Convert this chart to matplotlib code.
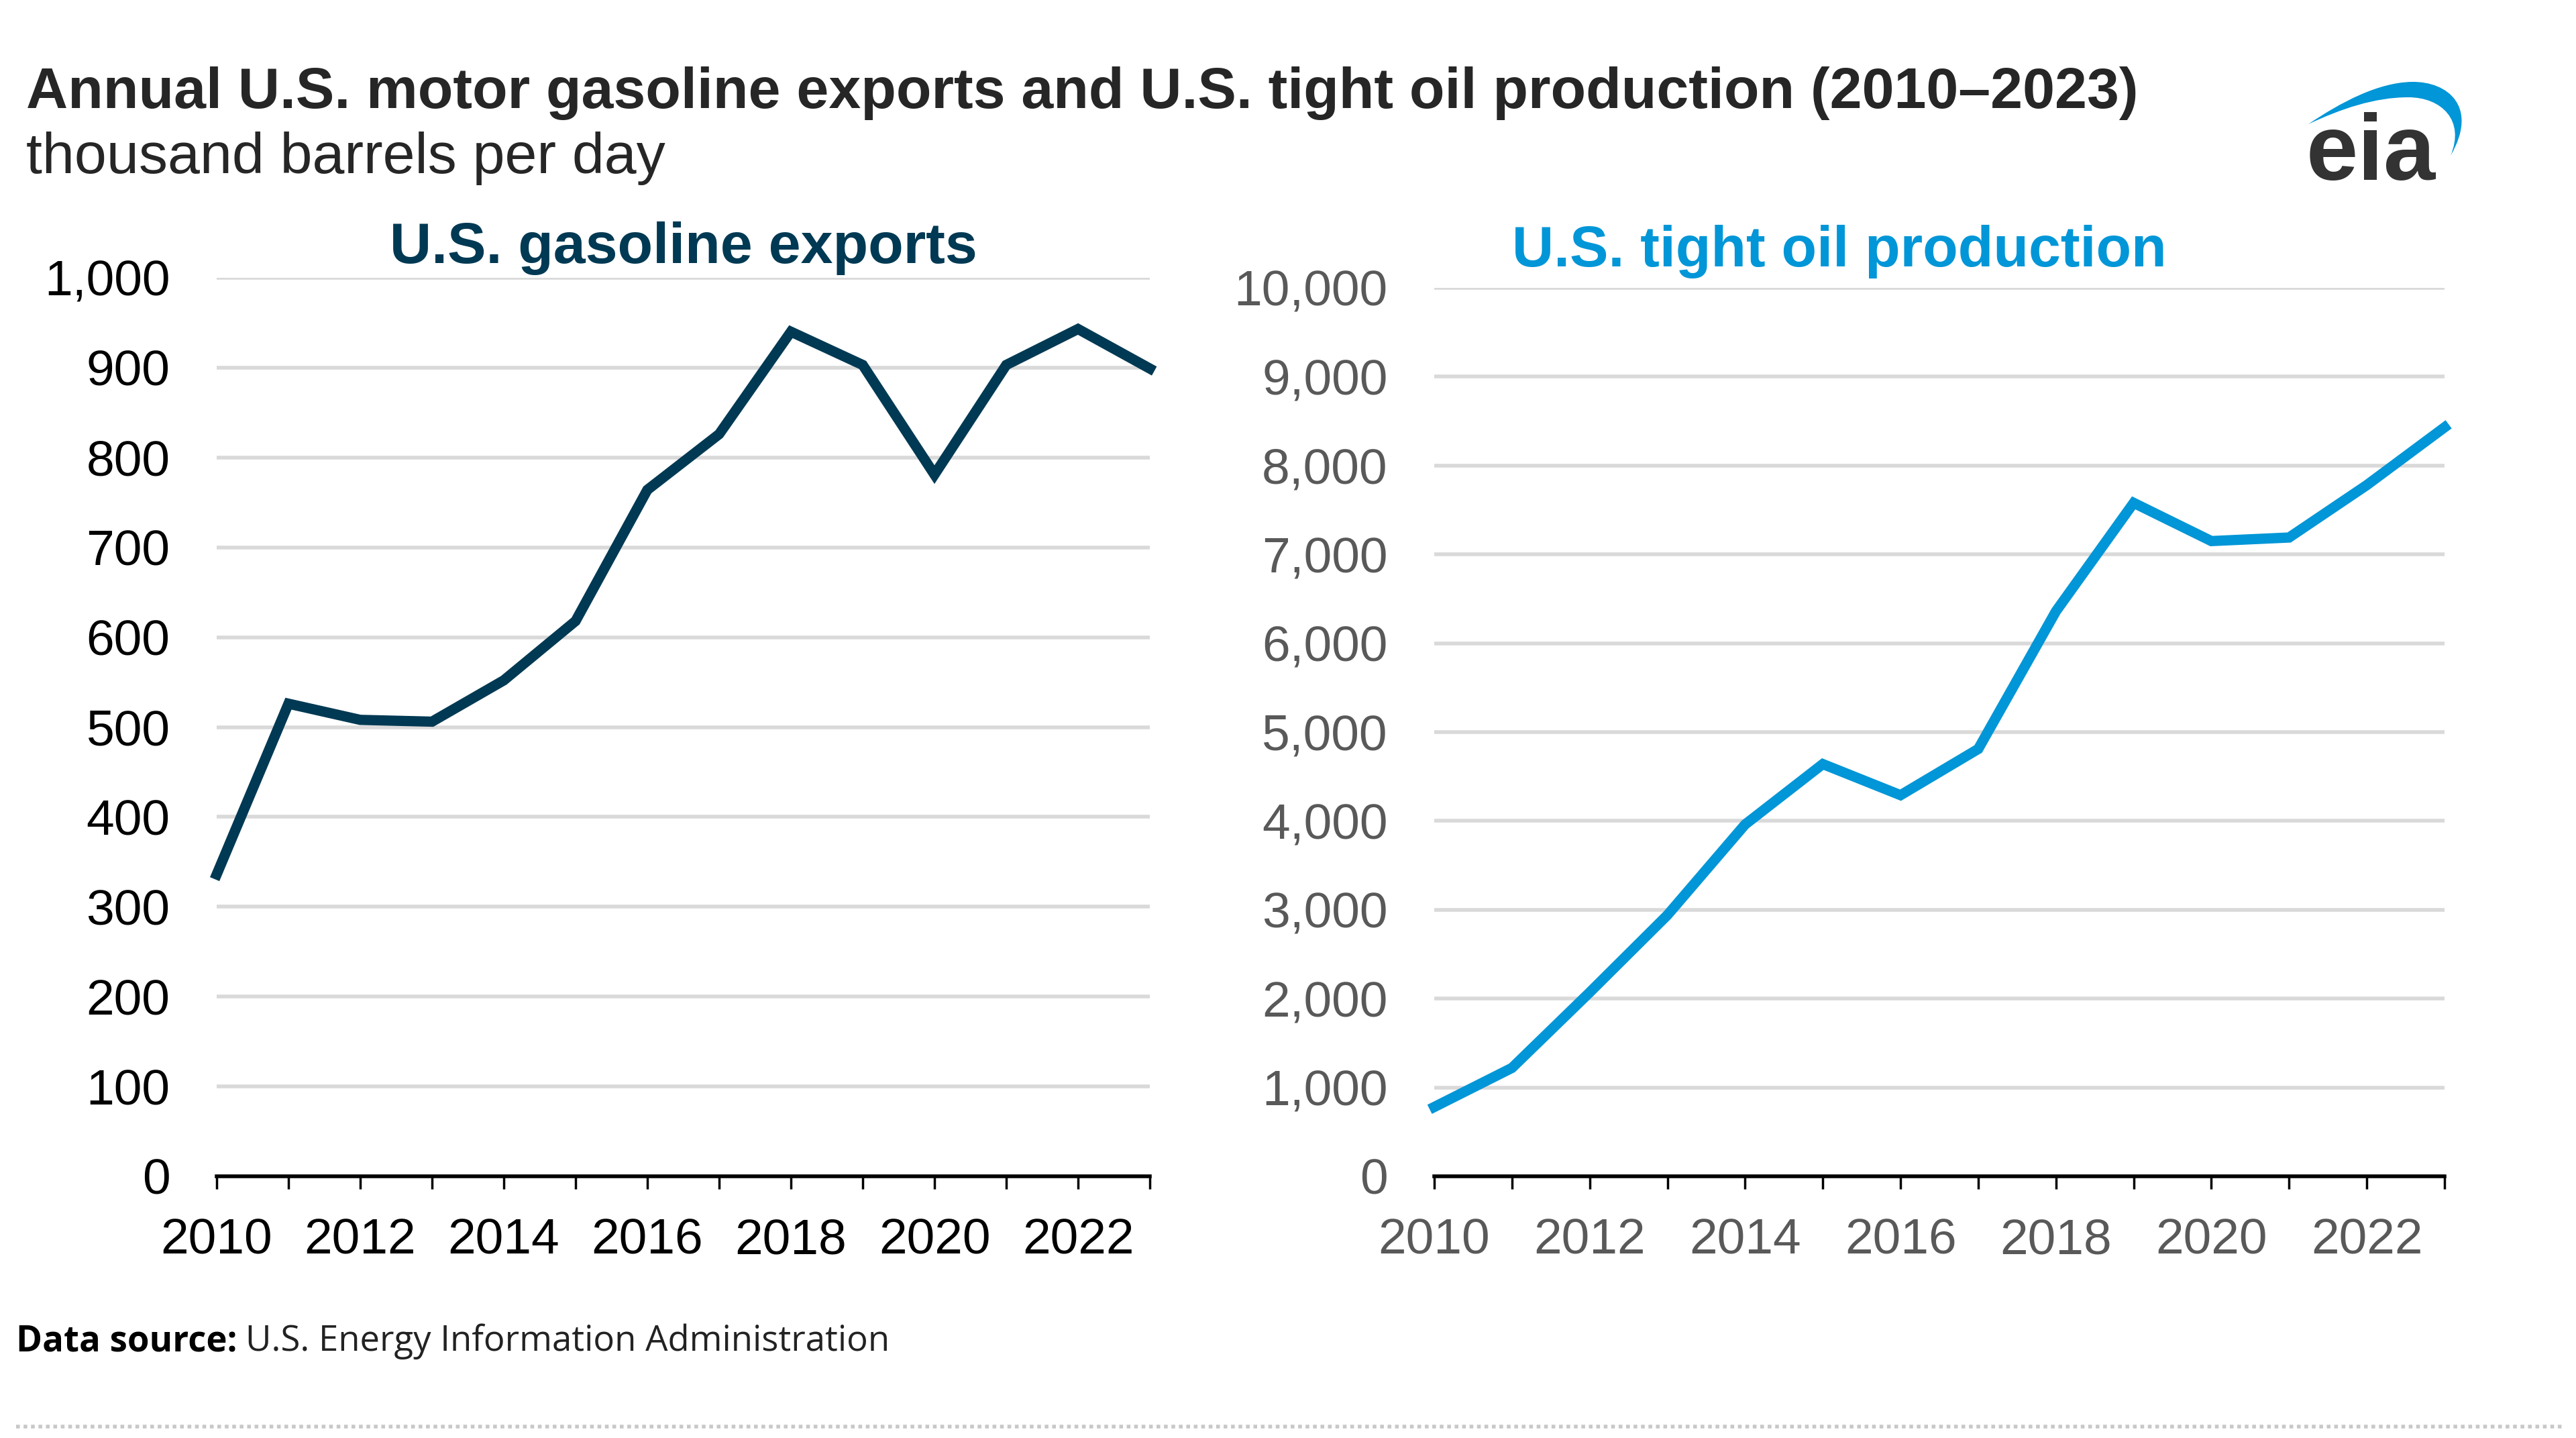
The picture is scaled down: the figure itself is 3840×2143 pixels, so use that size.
import numpy as np
import matplotlib
matplotlib.use('Agg')
import matplotlib.pyplot as plt
from matplotlib.path import Path
from matplotlib.patches import PathPatch

plt.rcParams['font.family'] = ['Liberation Sans', 'DejaVu Sans']

years = list(range(2010, 2024))
gasoline_exports = [336, 526, 508, 506, 552, 618, 764, 826, 940, 903, 781, 903, 943, 899]
tight_oil = [780, 1220, 2070, 2940, 3960, 4640, 4290, 4810, 6360, 7580, 7150, 7190, 7780, 8430]

title = 'Annual U.S. motor gasoline exports and U.S. tight oil production (2010\u20132023)'
subtitle = 'thousand barrels per day'
left_title = 'U.S. gasoline exports'
right_title = 'U.S. tight oil production'

navy = '#003953'
blue = '#0096d7'
grid_col = '#d9d9d9'

W, H = 3840, 2143
fig = plt.figure(figsize=(W / 100, H / 100), dpi=100)


def style_axis(ax, ymax, ystep, label_col):
    ax.set_xlim(2010, 2023)
    ax.set_ylim(0, ymax)
    ax.set_yticks(np.arange(0, ymax + 1, ystep))
    ax.yaxis.set_major_formatter(matplotlib.ticker.FuncFormatter(lambda v, p: f'{int(v):,}'))
    ax.set_xticks(years)
    ax.set_xticklabels([str(y) if y % 2 == 0 else '' for y in years])
    ax.grid(axis='y', color=grid_col, lw=4, zorder=0)
    ax.set_axisbelow(True)
    for s in ['top', 'right', 'left']:
        ax.spines[s].set_visible(False)
    ax.spines['bottom'].set_linewidth(4)
    ax.spines['bottom'].set_color('black')
    ax.tick_params(axis='y', length=0, pad=50, labelsize=54, labelcolor=label_col)
    ax.tick_params(axis='x', length=14, width=2.5, direction='out', pad=30,
                   labelsize=54, labelcolor=label_col, color='black')


# left panel
ax1 = fig.add_axes([323 / W, 1 - 1753 / H, (1714 - 323) / W, (1753 - 414) / H])
ax1.plot(years, gasoline_exports, color=navy, lw=11, solid_joinstyle='miter', clip_on=False, zorder=3)
style_axis(ax1, 1000, 100, 'black')

# right panel
ax2 = fig.add_axes([2138 / W, 1 - 1753 / H, (3644 - 2138) / W, (1753 - 429) / H])
ax2.plot(years, tight_oil, color=blue, lw=11, solid_joinstyle='miter', clip_on=False, zorder=3)
style_axis(ax2, 10000, 1000, '#595959')

# titles
fig.text(16 * 2.449 / W, 1 - 161 / H, title, fontsize=62, fontweight='bold', color='#262626', va='baseline')
fig.text(16 * 2.449 / W, 1 - 258 / H, subtitle, fontsize=62, color='#262626', va='baseline')
fig.text(1019 / W, 1 - 392 / H, left_title, fontsize=62, fontweight='bold', color=navy, ha='center', va='baseline')
fig.text(2742 / W, 1 - 397 / H, right_title, fontsize=62, fontweight='bold', color=blue, ha='center', va='baseline')

# footer
fig.canvas.draw()
r = fig.canvas.get_renderer()
t1 = fig.text(24 / W, 1 - 2013 / H, 'Data source:', fontsize=38, fontweight='bold', color='black',
              va='baseline', family=['Open Sans', 'DejaVu Sans'])
bb = t1.get_window_extent(renderer=r)
fig.text((bb.x1 + 12) / W, 1 - 2013 / H, 'U.S. Energy Information Administration', fontsize=38, color='#222222',
         va='baseline', family=['Open Sans', 'DejaVu Sans'])

# overlay for logo and footer rule (pixel coordinates)
ov = fig.add_axes([0, 0, 1, 1], zorder=5)
ov.set_xlim(0, W)
ov.set_ylim(H, 0)
ov.axis('off')
ov.plot([24, 3820], [2126, 2126], color='#c8c8c8', lw=4, ls=(0, (1, 1)))

verts = [(3441, 185), (3490, 152), (3545, 123), (3595, 122),
         (3650, 121), (3695, 160), (3653, 232),
         (3675, 180), (3640, 145), (3590, 145),
         (3540, 145), (3490, 162), (3441, 185), (3441, 185)]
codes = [Path.MOVETO, Path.CURVE4, Path.CURVE4, Path.CURVE4,
         Path.CURVE4, Path.CURVE4, Path.CURVE4,
         Path.CURVE4, Path.CURVE4, Path.CURVE4,
         Path.CURVE4, Path.CURVE4, Path.CURVE4, Path.CLOSEPOLY]
ov.add_patch(PathPatch(Path(verts, codes), facecolor=blue, edgecolor='none'))
ov.text(3438, 268, 'eia', fontsize=100, fontweight='bold', color='#333333', va='baseline', ha='left')

fig.savefig('out.png', dpi=100)
